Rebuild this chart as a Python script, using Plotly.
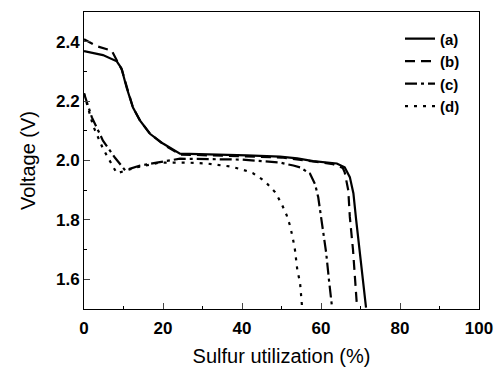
import plotly.graph_objects as go

# (a) solid
xa = [0, 4.8, 8.3, 9.5, 10.8, 12.4, 14.2, 16.7, 20, 24.3, 41.2, 49.6, 54, 58, 64, 66, 67.3, 68.2, 68.9, 69.9, 71.4]
ya = [2.368, 2.355, 2.334, 2.31, 2.245, 2.178, 2.134, 2.09, 2.057, 2.023, 2.017, 2.013, 2.007, 1.998, 1.99, 1.977, 1.944, 1.89, 1.80, 1.69, 1.505]
# (b) dashed
xb = [0, 3.2, 7, 8.5, 9.6, 10.9, 12.4, 14.2, 16.7, 20, 24.3, 41, 50, 58, 63, 65.5, 66, 66.9, 67.3, 68.1, 69.1]
yb = [2.408, 2.385, 2.37, 2.335, 2.305, 2.245, 2.178, 2.134, 2.09, 2.055, 2.02, 2.014, 2.01, 1.997, 1.988, 1.975, 1.96, 1.90, 1.81, 1.70, 1.51]
# (c) dash-dot
xc = [0, 2, 4.8, 7.8, 10.4, 14.2, 18.4, 24.3, 40, 49.6, 53, 54.7, 57.2, 58.5, 59.3, 60, 60.5, 61.3, 62, 62.8]
yc = [2.226, 2.145, 2.067, 2.01, 1.967, 1.983, 1.993, 2.006, 2.003, 1.993, 1.983, 1.977, 1.956, 1.92, 1.876, 1.81, 1.777, 1.69, 1.60, 1.505]
# (d) dotted
xd = [0, 2.3, 4.8, 8.3, 13.4, 19.2, 26, 31, 37, 40, 42.8, 45.8, 48.4, 50, 51.3, 52.1, 52.8, 53.4, 54, 54.7, 55.2]
yd = [2.226, 2.117, 2.04, 1.957, 1.977, 1.993, 1.993, 1.99, 1.98, 1.97, 1.957, 1.93, 1.893, 1.855, 1.816, 1.783, 1.743, 1.70, 1.632, 1.588, 1.508]

names = ["(a)", "(b)", "(c)", "(d)"]
dashes = ["solid", "10px,6px", "12px,4px,3px,4px", "3px,6px"]

fig = go.Figure()
for x, y, n, d in zip([xa, xb, xc, xd], [ya, yb, yc, yd], names, dashes):
    fig.add_trace(go.Scatter(x=x, y=y, name=n, mode="lines",
                             line=dict(color="black", width=2.2, dash=d)))

fig.update_layout(
    width=495, height=367,
    margin=dict(l=84, r=16, t=12, b=58, autoexpand=False),
    paper_bgcolor="white", plot_bgcolor="white",
    font=dict(family="Liberation Sans, Arial", color="black"),
    showlegend=True,
    legend=dict(x=0.80, y=0.965, xanchor="left", yanchor="top",
                bgcolor="rgba(0,0,0,0)", borderwidth=0,
                font=dict(size=15, weight="bold"), tracegroupgap=0,
                itemwidth=30),
)
fig.update_xaxes(range=[0, 100], dtick=20, ticks="inside", ticklen=6, tickwidth=1,
                 showline=True, linecolor="black", linewidth=1, mirror=True,
                 showgrid=False, zeroline=False, automargin=False,
                 tickfont=dict(size=17, weight="bold"), ticklabelstandoff=4,
                 minor=dict(dtick=10, ticks="inside", ticklen=3, tickcolor="black", showgrid=False),
                 title=dict(text="Sulfur utilization (%)", font=dict(size=20), standoff=14))
fig.update_yaxes(range=[1.5, 2.5], tickvals=[1.6, 1.8, 2.0, 2.2, 2.4],
                 ticktext=["1.6", "1.8", "2.0", "2.2", "2.4"],
                 ticks="inside", ticklen=6, tickwidth=1,
                 showline=True, linecolor="black", linewidth=1, mirror=True,
                 showgrid=False, zeroline=False, automargin=False,
                 tickfont=dict(size=17, weight="bold"),
                 minor=dict(dtick=0.1, ticks="inside", ticklen=3, tickcolor="black", showgrid=False),
                 title=dict(text="Voltage (V)", font=dict(size=20), standoff=14))

fig.write_html("out.html")
